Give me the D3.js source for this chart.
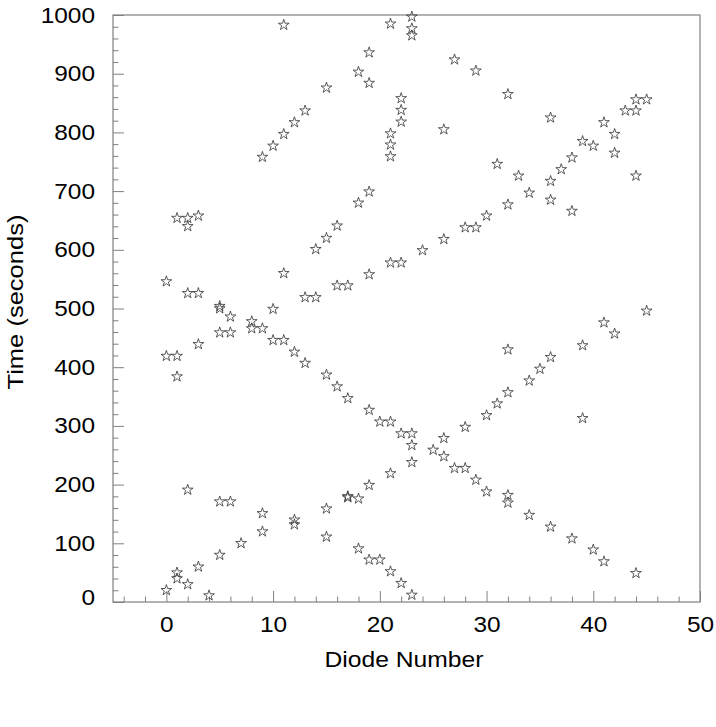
<!DOCTYPE html>
<html>
<head>
<meta charset="utf-8">
<script src="https://cdn.jsdelivr.net/npm/d3@7"></script>
<style>
  html, body { margin: 0; padding: 0; background: #fff; }
  svg { display: block; }
  text { font-family: "Liberation Sans", Arial, Helvetica, sans-serif; fill: #000; }
</style>
</head>
<body>
<svg id="chart" width="716" height="727"></svg>
<script>
// Data: diode number and time (seconds) of each star marker
const diode = [
  5,5,6,8,8,9,10,5,6,3,0,1,1,10,11,12,13,15,16,17,19,20,21,22,23,23,23,21,19,17,17,18,15,12,12,9,9,7,5,3,1,1,2,0,4,2,5,6,15,18,19,20,21,22,23,
  11,21,23,23,23,19,18,19,15,22,22,22,21,21,21,13,12,11,10,9,19,18,16,15,14,24,21,22,19,16,17,13,14,11,1,2,3,2,0,2,3,
  27,29,32,26,36,44,45,43,44,41,42,39,40,42,38,37,31,33,36,34,36,44,32,38,30,28,29,26,
  45,41,42,39,32,36,35,34,32,31,30,28,26,25,26,27,28,29,30,32,32,34,36,39,38,40,41,44
];
const timeSec = [
  504,500,486,478,466,466,499,459,459,439,419,419,384,446,446,426,407,387,367,347,327,307,307,287,287,267,238,219,199,178,180,176,159,140,132,151,120,100,80,60,50,40,30,20,11,191,171,171,111,91,72,72,52,32,12,
  983,985,997,977,965,936,903,884,876,858,838,818,798,779,759,837,817,797,777,758,699,680,641,620,601,599,578,578,558,539,539,519,519,560,654,654,658,640,546,526,526,
  924,905,865,805,825,856,856,837,837,817,797,785,777,765,757,737,746,726,717,697,685,726,677,666,658,638,638,618,
  496,476,457,437,430,417,397,377,357,338,318,298,279,259,248,228,228,208,188,182,169,148,128,313,108,89,69,49
];
const xMajorTicks = [0, 10, 20, 30, 40, 50];
const yMajorTicks = [0, 100, 200, 300, 400, 500, 600, 700, 800, 900, 1000];
const xLabel = "Diode Number";
const yLabel = "Time (seconds)";

const svg = d3.select("#chart");
const L = 113, R = 700, T = 15, B = 602;
const x = d3.scaleLinear().domain([-5, 50]).range([L, R]);
const y = d3.scaleLinear().domain([0, 1000]).range([B, T]);
const axisColor = "#808080";
const STRETCH = 1.11;

function stretch(sel, k) {
  sel.each(function() {
    const w = this.getComputedTextLength();
    if (w > 0) d3.select(this).attr("textLength", w * k).attr("lengthAdjust", "spacingAndGlyphs");
  });
}

// minor ticks
const xMinor = d3.range(-4, 50, 2).filter(v => v % 10 !== 0);
const yMinor = d3.range(20, 1000, 20).filter(v => v % 100 !== 0);

const gxm = svg.append("g").attr("transform", `translate(0,${B})`)
  .call(d3.axisBottom(x).tickValues(xMinor).tickSize(-5.5).tickFormat(""));
const gym = svg.append("g").attr("transform", `translate(${L},0)`)
  .call(d3.axisLeft(y).tickValues(yMinor).tickSize(-5.5).tickFormat(""));

const gx = svg.append("g").attr("transform", `translate(0,${B})`)
  .call(d3.axisBottom(x).tickValues(xMajorTicks).tickSize(-11).tickPadding(14.5).tickFormat(d3.format("d")));
const gy = svg.append("g").attr("transform", `translate(${L},0)`)
  .call(d3.axisLeft(y).tickValues(yMajorTicks).tickSize(-11).tickPadding(18).tickFormat(d3.format("d")));

[gxm, gym, gx, gy].forEach(g => {
  g.select(".domain").remove();
  g.selectAll(".tick line").attr("stroke", axisColor).attr("stroke-width", 1);
  g.selectAll("text").attr("font-size", 22).attr("font-family", "'Liberation Sans', Arial, sans-serif").attr("fill", "#000");
});
gy.selectAll(".tick").filter(d => d === 0).select("text").attr("dy", "0.1em");
stretch(gx.selectAll("text"), STRETCH);
stretch(gy.selectAll("text"), STRETCH);

// frame
svg.append("rect").attr("x", L).attr("y", T).attr("width", R - L).attr("height", B - T)
  .attr("fill", "none").attr("stroke", axisColor).attr("stroke-width", 1.2);

// stars
const star = d3.symbol().type(d3.symbolStar).size(36);
svg.append("g").selectAll("path").data(diode.map((d, i) => [d, timeSec[i]]))
  .join("path")
  .attr("transform", d => `translate(${x(d[0])},${y(d[1])})`)
  .attr("d", star)
  .attr("fill", "none").attr("stroke", "#333").attr("stroke-width", 0.8);

// axis titles
const xt = svg.append("text").attr("x", 404).attr("y", 667).attr("text-anchor", "middle")
  .attr("font-size", 22).text(xLabel);
const yt = svg.append("text").attr("transform", `translate(23,302) rotate(-90)`).attr("text-anchor", "middle")
  .attr("font-size", 22).text(yLabel);
stretch(xt, 1.12);
stretch(yt, 1.16);
</script>
</body>
</html>
